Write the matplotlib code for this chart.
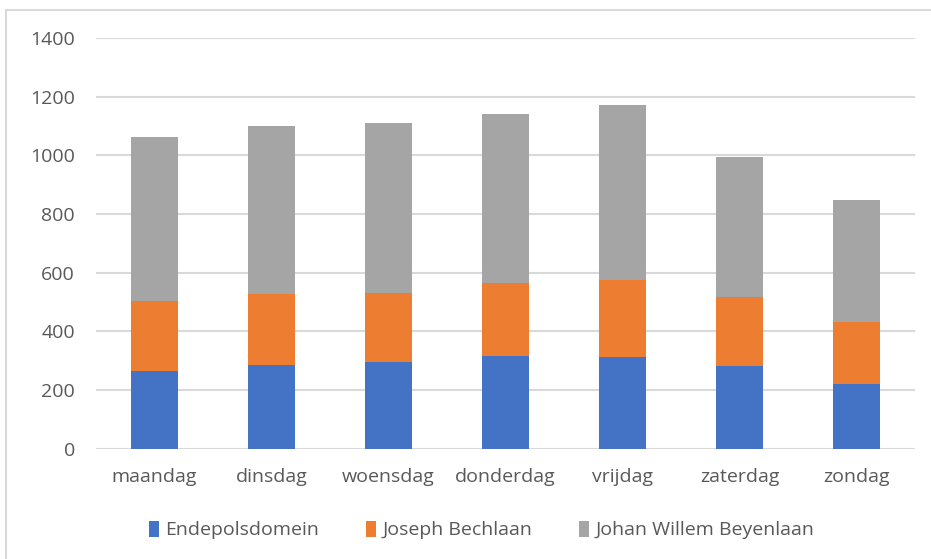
import matplotlib.pyplot as plt
import matplotlib.patches as mpatches
import numpy as np

dagen = ['maandag', 'dinsdag', 'woensdag', 'donderdag', 'vrijdag', 'zaterdag', 'zondag']

endepolsdomein = [266, 287, 296, 317, 314, 284, 221]
joseph_bechlaan = [239, 242, 234, 247, 262, 233, 211]
johan_willem_beyenlaan = [558, 571, 580, 576, 597, 478, 415]

colors = ['#4472c4', '#ed7d31', '#a5a5a5']
labels = ['Endepolsdomein', 'Joseph Bechlaan', 'Johan Willem Beyenlaan']

plt.rcParams['font.family'] = ['Open Sans', 'DejaVu Sans']

fig = plt.figure(figsize=(9.31, 5.59), dpi=100)
ax = fig.add_axes([0.103, 0.197, 0.880, 0.735])

x = np.arange(len(dagen))
w = 0.405
b1 = np.array(endepolsdomein)
b2 = b1 + np.array(joseph_bechlaan)
ax.bar(x, endepolsdomein, w, color=colors[0], label=labels[0], zorder=3)
ax.bar(x, joseph_bechlaan, w, bottom=b1, color=colors[1], label=labels[1], zorder=3)
ax.bar(x, johan_willem_beyenlaan, w, bottom=b2, color=colors[2], label=labels[2], zorder=3)

ax.set_xlim(-0.5, len(dagen) - 0.5)
ax.set_ylim(0, 1400)
ax.set_yticks(range(0, 1401, 200))
ax.set_xticks(x)
ax.set_xticklabels(dagen)
ax.grid(axis='y', color='#d9d9d9', linewidth=1.5, zorder=0)
for s in ax.spines.values():
    s.set_visible(False)
ax.tick_params(length=0, labelsize=14, colors='#595959')
ax.tick_params(axis='x', pad=14)
ax.tick_params(axis='y', pad=15)

leg = fig.legend(loc='center', bbox_to_anchor=(0.517, 0.052), ncol=3, frameon=False,
                 fontsize=14, handlelength=0.55, handleheight=0.9, handletextpad=0.3,
                 columnspacing=2.4)
for t in leg.get_texts():
    t.set_color('#595959')

# chart frame
fig.patches.append(mpatches.Rectangle((0.006, -0.01), 1.1, 0.993, transform=fig.transFigure,
                                      fill=False, edgecolor='#d9d9d9', linewidth=1.5))

fig.savefig('out.png', dpi=100)
